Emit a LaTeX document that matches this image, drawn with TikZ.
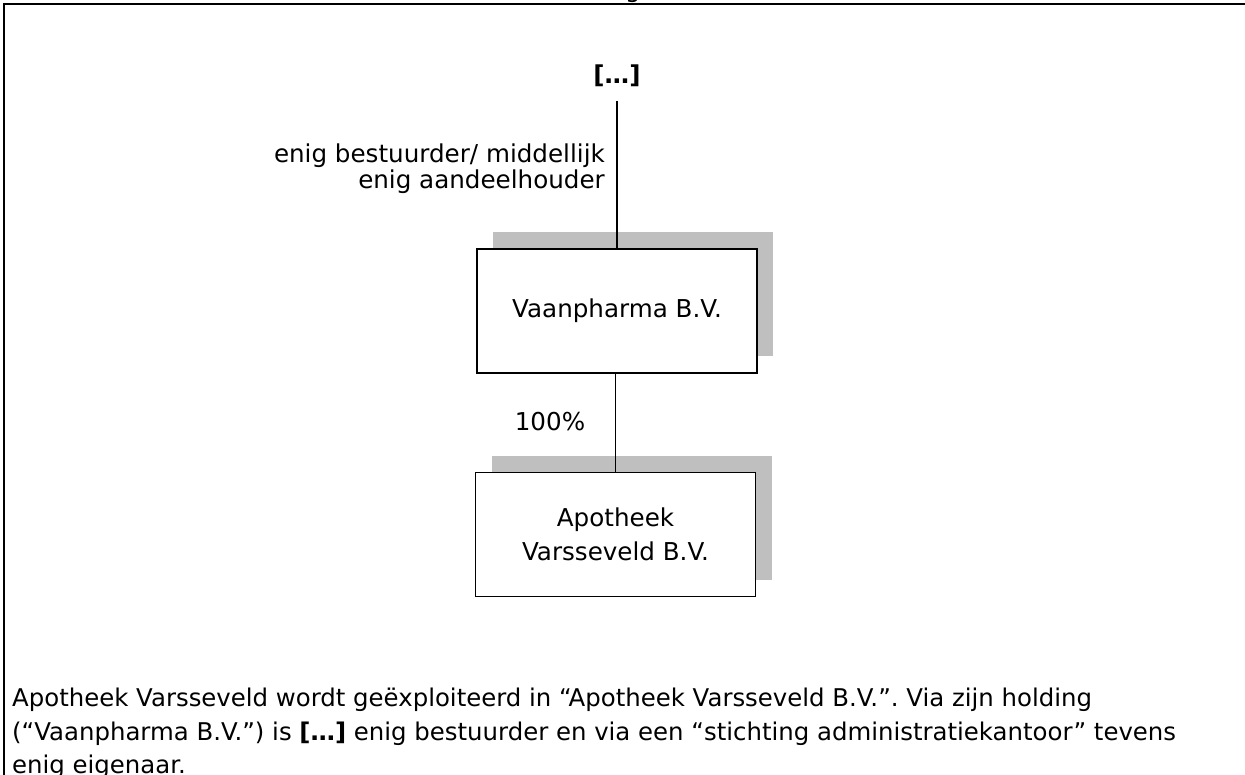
\documentclass[tikz,border=0pt]{standalone}
\usepackage{fontspec}
\setmainfont{DejaVu Sans}
\usepackage{xcolor}
\definecolor{orgLine}{HTML}{000000}
\definecolor{orgShade}{HTML}{BFBFBF}
\usepackage{tikz}
\usetikzlibrary{positioning,shadows}
\frenchspacing
\tikzset{
    entity/.style={
        draw=orgLine,
        fill=white,
        rectangle,
        align=center,
        minimum height=124pt,
        minimum width=280pt,
        line width=1.6pt,
        drop shadow={shadow xshift=16pt, shadow yshift=17pt, fill=orgShade, opacity=1},
        font=\fontsize{24.6}{34}\selectfont
    },
    link/.style={
        line width=1.6pt,
        color=orgLine
    },
    lbl/.style={
        font=\fontsize{24.6}{26}\selectfont,
        inner sep=0pt
    }
}

\begin{document}
\begin{tikzpicture}[x=1pt,y=-1pt]
    \useasboundingbox (0,0) rectangle (1245,775);
    % frame
    \draw[line width=2pt] (4,775) -- (4,4) -- (1245,4);
    \node[lbl, anchor=base] (cut) at (633,-2.5) {g};

    % owner
    \node[lbl, font=\fontsize{24.6}{26}\selectfont\bfseries] (owner) at (617,76) {[…]};
    \node[entity] (holding) at (617,311) {Vaanpharma B.V.};
    \node[entity] (shop) at (615.5,534.5) {Apotheek\\Varsseveld B.V.};

    \draw[link, shorten <=14pt] (owner.south) -- (holding.north);
    \draw[link] (holding.south -| shop.north) -- (shop.north);

    \node[lbl, align=left, anchor=east] (rolelbl) at (605,169)
        {\hfill enig bestuurder/ middellijk\\\hfill enig aandeelhouder};
    \node[lbl] (sharelbl) at (550,422) {100\%};

    % caption
    \node[lbl, align=left, anchor=north west, font=\fontsize{24.4}{33.5}\selectfont] (caption) at (12,688)
        {Apotheek Varsseveld wordt geëxploiteerd in “Apotheek Varsseveld B.V.”. Via zijn holding\\
         (“Vaanpharma B.V.”) is \textbf{[…]} enig bestuurder en via een “stichting administratiekantoor” tevens\\
         enig eigenaar.};
\end{tikzpicture}
\end{document}
